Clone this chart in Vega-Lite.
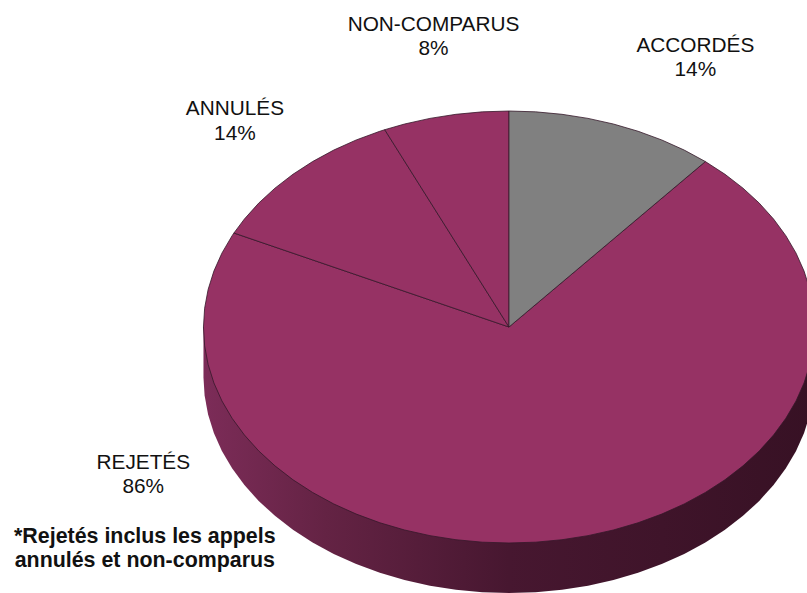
{"$schema":"https://vega.github.io/schema/vega-lite/v6.json","width":807,"height":593,"autosize":{"type":"fit","contains":"padding"},"padding":0,"background":"white","view":{"stroke":null},
"datasets":{
"side":[{"o":0,"x":1,"y":0},{"o":1,"x":1,"y":-0.2315},{"o":2,"x":0.9962,"y":-0.3187},{"o":3,"x":0.9848,"y":-0.4051},{"o":4,"x":0.9659,"y":-0.4903},{"o":5,"x":0.9397,"y":-0.5735},{"o":6,"x":0.9063,"y":-0.6541},{"o":7,"x":0.866,"y":-0.7315},{"o":8,"x":0.8192,"y":-0.8051},{"o":9,"x":0.766,"y":-0.8743},{"o":10,"x":0.7071,"y":-0.9386},{"o":11,"x":0.6428,"y":-0.9975},{"o":12,"x":0.5736,"y":-1.0507},{"o":13,"x":0.5,"y":-1.0975},{"o":14,"x":0.4226,"y":-1.1378},{"o":15,"x":0.342,"y":-1.1712},{"o":16,"x":0.2588,"y":-1.1974},{"o":17,"x":0.1736,"y":-1.2163},{"o":18,"x":0.0872,"y":-1.2277},{"o":19,"x":0,"y":-1.2315},{"o":20,"x":-0.0872,"y":-1.2277},{"o":21,"x":-0.1736,"y":-1.2163},{"o":22,"x":-0.2588,"y":-1.1974},{"o":23,"x":-0.342,"y":-1.1712},{"o":24,"x":-0.4226,"y":-1.1378},{"o":25,"x":-0.5,"y":-1.0975},{"o":26,"x":-0.5736,"y":-1.0507},{"o":27,"x":-0.6428,"y":-0.9975},{"o":28,"x":-0.7071,"y":-0.9386},{"o":29,"x":-0.766,"y":-0.8743},{"o":30,"x":-0.8192,"y":-0.8051},{"o":31,"x":-0.866,"y":-0.7315},{"o":32,"x":-0.9063,"y":-0.6541},{"o":33,"x":-0.9397,"y":-0.5735},{"o":34,"x":-0.9659,"y":-0.4903},{"o":35,"x":-0.9848,"y":-0.4051},{"o":36,"x":-0.9962,"y":-0.3187},{"o":37,"x":-1,"y":-0.2315},{"o":38,"x":-1,"y":0}],
"top":[
{"s":"REJETÉS","o":0,"x":0,"y":0},{"s":"REJETÉS","o":1,"x":0.6428,"y":0.766},{"s":"REJETÉS","o":2,"x":0.7071,"y":0.7071},{"s":"REJETÉS","o":3,"x":0.766,"y":0.6428},{"s":"REJETÉS","o":4,"x":0.8192,"y":0.5736},{"s":"REJETÉS","o":5,"x":0.866,"y":0.5},{"s":"REJETÉS","o":6,"x":0.9063,"y":0.4226},{"s":"REJETÉS","o":7,"x":0.9397,"y":0.342},{"s":"REJETÉS","o":8,"x":0.9659,"y":0.2588},{"s":"REJETÉS","o":9,"x":0.9848,"y":0.1736},{"s":"REJETÉS","o":10,"x":0.9962,"y":0.0872},{"s":"REJETÉS","o":11,"x":1,"y":0},{"s":"REJETÉS","o":12,"x":0.9962,"y":-0.0872},{"s":"REJETÉS","o":13,"x":0.9848,"y":-0.1736},{"s":"REJETÉS","o":14,"x":0.9659,"y":-0.2588},{"s":"REJETÉS","o":15,"x":0.9397,"y":-0.342},{"s":"REJETÉS","o":16,"x":0.9063,"y":-0.4226},{"s":"REJETÉS","o":17,"x":0.866,"y":-0.5},{"s":"REJETÉS","o":18,"x":0.8192,"y":-0.5736},{"s":"REJETÉS","o":19,"x":0.766,"y":-0.6428},{"s":"REJETÉS","o":20,"x":0.7071,"y":-0.7071},{"s":"REJETÉS","o":21,"x":0.6428,"y":-0.766},{"s":"REJETÉS","o":22,"x":0.5736,"y":-0.8192},{"s":"REJETÉS","o":23,"x":0.5,"y":-0.866},{"s":"REJETÉS","o":24,"x":0.4226,"y":-0.9063},{"s":"REJETÉS","o":25,"x":0.342,"y":-0.9397},{"s":"REJETÉS","o":26,"x":0.2588,"y":-0.9659},{"s":"REJETÉS","o":27,"x":0.1736,"y":-0.9848},{"s":"REJETÉS","o":28,"x":0.0872,"y":-0.9962},{"s":"REJETÉS","o":29,"x":0,"y":-1},{"s":"REJETÉS","o":30,"x":-0.0872,"y":-0.9962},{"s":"REJETÉS","o":31,"x":-0.1736,"y":-0.9848},{"s":"REJETÉS","o":32,"x":-0.2588,"y":-0.9659},{"s":"REJETÉS","o":33,"x":-0.342,"y":-0.9397},{"s":"REJETÉS","o":34,"x":-0.4226,"y":-0.9063},{"s":"REJETÉS","o":35,"x":-0.5,"y":-0.866},{"s":"REJETÉS","o":36,"x":-0.5736,"y":-0.8192},{"s":"REJETÉS","o":37,"x":-0.6428,"y":-0.766},{"s":"REJETÉS","o":38,"x":-0.7071,"y":-0.7071},{"s":"REJETÉS","o":39,"x":-0.766,"y":-0.6428},{"s":"REJETÉS","o":40,"x":-0.8192,"y":-0.5736},{"s":"REJETÉS","o":41,"x":-0.866,"y":-0.5},{"s":"REJETÉS","o":42,"x":-0.9063,"y":-0.4226},{"s":"REJETÉS","o":43,"x":-0.9397,"y":-0.342},{"s":"REJETÉS","o":44,"x":-0.9659,"y":-0.2588},{"s":"REJETÉS","o":45,"x":-0.9848,"y":-0.1736},{"s":"REJETÉS","o":46,"x":-0.9962,"y":-0.0872},{"s":"REJETÉS","o":47,"x":-1,"y":0},{"s":"REJETÉS","o":48,"x":-0.9962,"y":0.0872},{"s":"REJETÉS","o":49,"x":-0.9848,"y":0.1736},{"s":"REJETÉS","o":50,"x":-0.9659,"y":0.2588},{"s":"REJETÉS","o":51,"x":-0.9397,"y":0.342},{"s":"REJETÉS","o":52,"x":-0.9063,"y":0.4226},{"s":"REJETÉS","o":53,"x":-0.9003,"y":0.4352},{"s":"REJETÉS","o":54,"x":0,"y":0},
{"s":"ANNULÉS","o":0,"x":0,"y":0},{"s":"ANNULÉS","o":1,"x":-0.9003,"y":0.4352},{"s":"ANNULÉS","o":2,"x":-0.866,"y":0.5},{"s":"ANNULÉS","o":3,"x":-0.8192,"y":0.5736},{"s":"ANNULÉS","o":4,"x":-0.766,"y":0.6428},{"s":"ANNULÉS","o":5,"x":-0.7071,"y":0.7071},{"s":"ANNULÉS","o":6,"x":-0.6428,"y":0.766},{"s":"ANNULÉS","o":7,"x":-0.5736,"y":0.8192},{"s":"ANNULÉS","o":8,"x":-0.5,"y":0.866},{"s":"ANNULÉS","o":9,"x":-0.4226,"y":0.9063},{"s":"ANNULÉS","o":10,"x":-0.4067,"y":0.9135},{"s":"ANNULÉS","o":11,"x":0,"y":0},
{"s":"NON-COMPARUS","o":0,"x":0,"y":0},{"s":"NON-COMPARUS","o":1,"x":-0.4067,"y":0.9135},{"s":"NON-COMPARUS","o":2,"x":-0.342,"y":0.9397},{"s":"NON-COMPARUS","o":3,"x":-0.2588,"y":0.9659},{"s":"NON-COMPARUS","o":4,"x":-0.1736,"y":0.9848},{"s":"NON-COMPARUS","o":5,"x":-0.0872,"y":0.9962},{"s":"NON-COMPARUS","o":6,"x":0,"y":1},{"s":"NON-COMPARUS","o":7,"x":0,"y":0},
{"s":"ACCORDÉS","o":0,"x":0,"y":0},{"s":"ACCORDÉS","o":1,"x":0,"y":1},{"s":"ACCORDÉS","o":2,"x":0.0872,"y":0.9962},{"s":"ACCORDÉS","o":3,"x":0.1736,"y":0.9848},{"s":"ACCORDÉS","o":4,"x":0.2588,"y":0.9659},{"s":"ACCORDÉS","o":5,"x":0.342,"y":0.9397},{"s":"ACCORDÉS","o":6,"x":0.4226,"y":0.9063},{"s":"ACCORDÉS","o":7,"x":0.5,"y":0.866},{"s":"ACCORDÉS","o":8,"x":0.5736,"y":0.8192},{"s":"ACCORDÉS","o":9,"x":0.6428,"y":0.766},{"s":"ACCORDÉS","o":10,"x":0,"y":0}],
"labels":[{"t":"NON-COMPARUS\n8%","x":-0.247,"y":1.372},{"t":"ACCORDÉS\n14%","x":0.61,"y":1.275},{"t":"ANNULÉS\n14%","x":-0.897,"y":0.981},{"t":"REJETÉS\n86%","x":-1.197,"y":-0.657}],
"note":[{"t":"*Rejetés inclus les appels\nannulés et non-comparus","x":-1.192,"y":-1.001}]
},
"encoding":{
"x":{"field":"x","type":"quantitative","axis":null,"scale":{"domain":[-1.666,0.9755],"nice":false,"zero":false}},
"y":{"field":"y","type":"quantitative","axis":null,"scale":{"domain":[-1.2315,1.514],"nice":false,"zero":false}}
},
"layer":[
{"data":{"name":"side"},"mark":{"type":"line","clip":true,"strokeWidth":0,"strokeOpacity":0,"fill":{"x1":0,"y1":0,"x2":1,"y2":0,"gradient":"linear","stops":[{"offset":0,"color":"#7c2c58"},{"offset":0.2,"color":"#642344"},{"offset":0.5,"color":"#471730"},{"offset":1,"color":"#371124"}]}},"encoding":{"order":{"field":"o","type":"quantitative"}}},
{"data":{"name":"top"},"mark":{"type":"line","clip":true,"strokeWidth":0.8,"stroke":"#35182a"},"encoding":{"detail":{"field":"s"},"order":{"field":"o","type":"quantitative"},"fill":{"field":"s","type":"nominal","legend":null,"scale":{"domain":["REJETÉS","ANNULÉS","NON-COMPARUS","ACCORDÉS"],"range":["#963264","#963264","#963264","#808080"]}}}},
{"data":{"name":"labels"},"mark":{"type":"text","font":"Liberation Sans","fontSize":20.8,"lineHeight":24.5,"lineBreak":"\n","align":"center","baseline":"alphabetic","color":"#111111"},"encoding":{"text":{"field":"t"}}},
{"data":{"name":"note"},"mark":{"type":"text","font":"Liberation Sans","fontSize":21.4,"fontWeight":"bold","lineHeight":24,"lineBreak":"\n","align":"center","baseline":"alphabetic","color":"#111111"},"encoding":{"text":{"field":"t"}}}
]}
